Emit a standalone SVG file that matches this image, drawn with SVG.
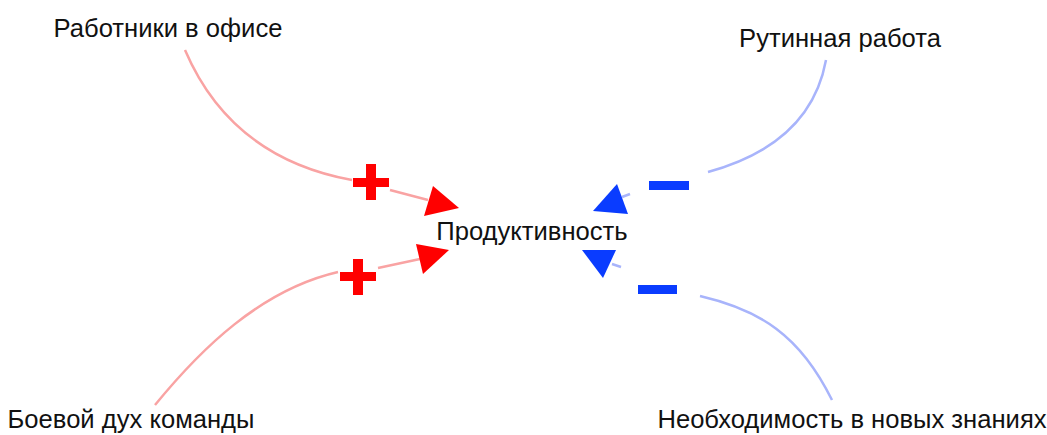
<svg xmlns="http://www.w3.org/2000/svg" width="1047" height="435" viewBox="0 0 1047 435">
<style>
text{font-family:"Liberation Sans",Arial,sans-serif;font-size:25.6px;fill:#111;text-anchor:middle}
.pos{fill:none;stroke:#f9a3a3;stroke-width:2.5}
.neg{fill:none;stroke:#a8b4fb;stroke-width:2.5}
.ph{fill:#ff0000}
.nh{fill:#0a3cff}
</style>
<rect width="1047" height="435" fill="#fff"/>
<g id="connectors">
<path class="pos" d="M185,50 C215,120 270,165 352,180"/>
<path class="pos" d="M390,190 L428,200"/>
<polygon class="ph" points="459,208 433,186 424,216"/>
<rect class="ph" x="353" y="178" width="36" height="9"/>
<rect class="ph" x="366" y="164" width="10" height="36"/>
<path class="pos" d="M155,405 C200,350 260,290 338,272"/>
<path class="pos" d="M378,268 L420,259"/>
<polygon class="ph" points="449,250 416,244 423,274"/>
<rect class="ph" x="340" y="272" width="36" height="9"/>
<rect class="ph" x="353" y="259" width="10" height="36"/>
<path class="neg" d="M826,60 C815,120 770,155 708,172"/>
<path class="neg" d="M622,197 L630,194"/>
<polygon class="nh" points="593,211 617,184 628,214"/>
<rect class="nh" x="649" y="181" width="40" height="9"/>
<path class="neg" d="M832,400 C800,335 760,310 700,296"/>
<path class="neg" d="M612,264 L621,267"/>
<polygon class="nh" points="582,250 616,250 603,278"/>
<rect class="nh" x="638" y="285" width="39" height="9"/>
</g>
<g id="n1"><text x="168" y="37">Работники в офисе</text></g>
<g id="n2"><text x="840" y="47">Рутинная работа</text></g>
<g id="n3"><text x="532" y="240">Продуктивность</text></g>
<g id="n4"><text x="131" y="428">Боевой дух команды</text></g>
<g id="n5"><text x="852" y="428">Необходимость в новых знаниях</text></g>
</svg>
